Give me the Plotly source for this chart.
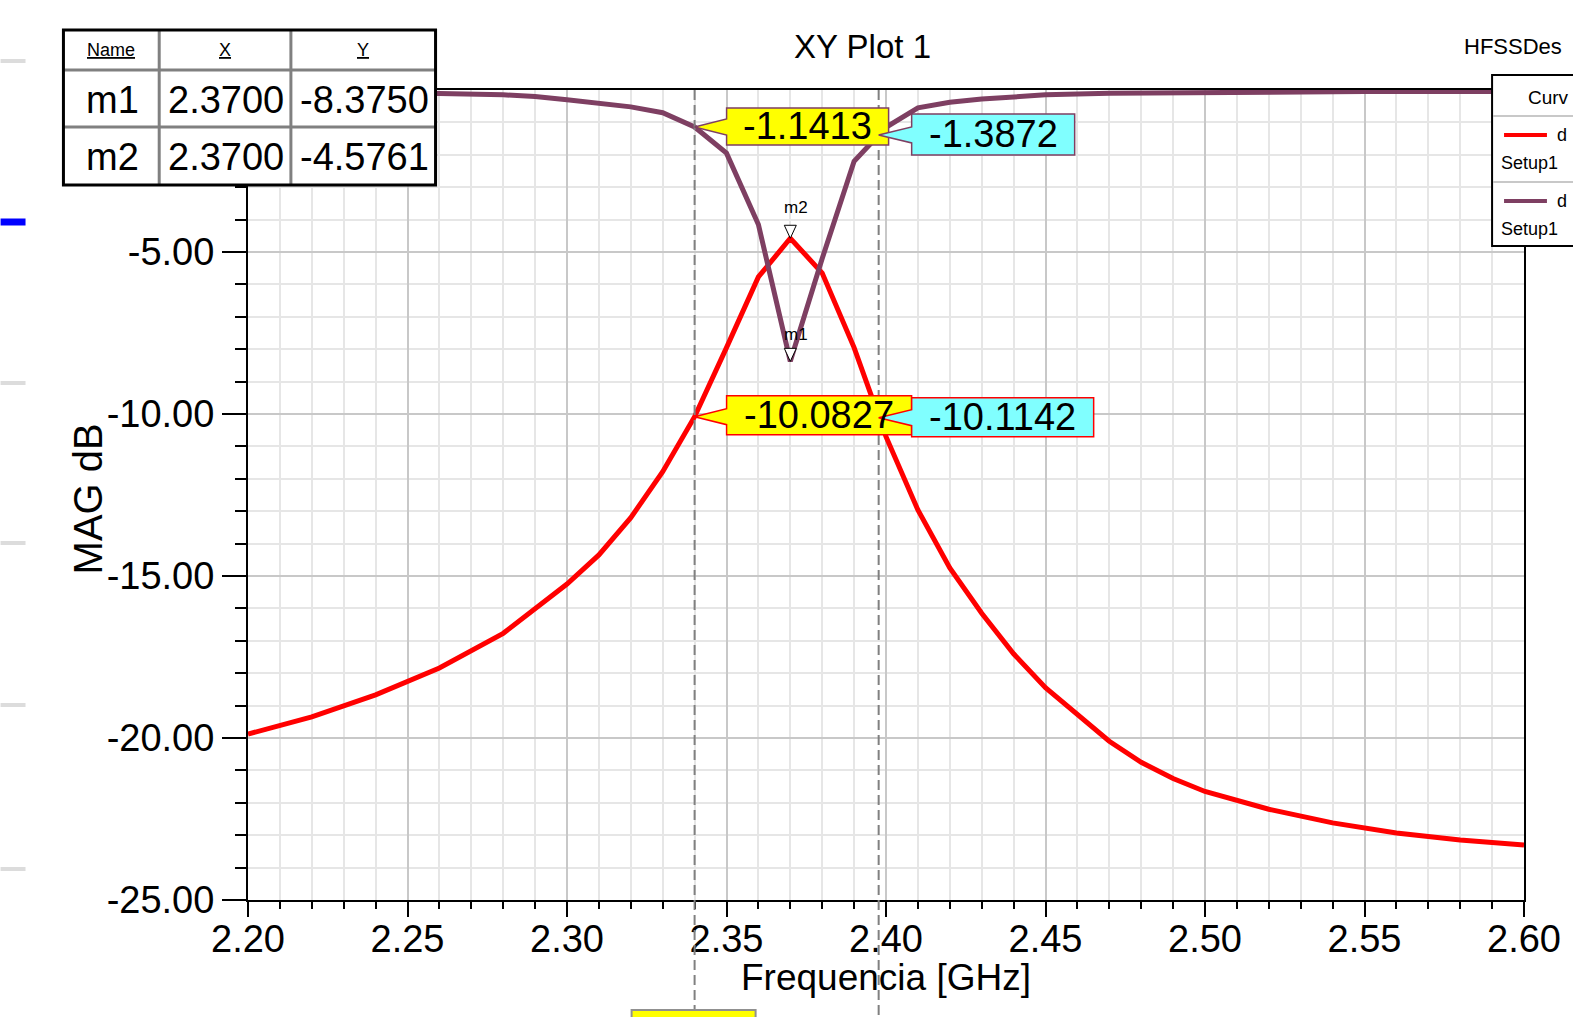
import plotly.graph_objects as go

# ---------------- data ----------------
freq_s21 = [2.20, 2.22, 2.24, 2.26, 2.28, 2.30, 2.31, 2.32, 2.33, 2.34, 2.35, 2.36, 2.37,
            2.38, 2.39, 2.40, 2.41, 2.42, 2.43, 2.44, 2.45, 2.46, 2.47, 2.48, 2.49, 2.50,
            2.52, 2.54, 2.56, 2.58, 2.60]
s21_db = [-19.88, -19.35, -18.67, -17.84, -16.77, -15.25, -14.35, -13.20, -11.78, -10.0827,
          -7.95, -5.77, -4.5761, -5.65, -7.95, -10.70, -12.96, -14.75, -16.15, -17.40,
          -18.45, -19.30, -20.10, -20.75, -21.25, -21.65, -22.20, -22.62, -22.93, -23.15, -23.30]

freq_s11 = [2.20, 2.22, 2.24, 2.26, 2.28, 2.29, 2.30, 2.31, 2.32, 2.33, 2.34, 2.35, 2.36,
            2.37, 2.38, 2.39, 2.40, 2.41, 2.42, 2.43, 2.44, 2.45, 2.47, 2.50, 2.55, 2.60]
s11_db = [-0.05, -0.06, -0.08, -0.11, -0.15, -0.20, -0.30, -0.40, -0.52, -0.70, -1.1413,
          -1.95, -4.15, -8.3750, -5.20, -2.20, -1.15, -0.55, -0.38, -0.28, -0.20, -0.15,
          -0.10, -0.07, -0.05, -0.05]

marker_names = ["m1", "m2"]
marker_x = [2.3700, 2.3700]
marker_y = [-8.3750, -4.5761]

xline_pos = [2.34, 2.3977]
xline_s11 = [-1.1413, -1.3872]
xline_s21 = [-10.0827, -10.1142]

x_ticks = [2.20, 2.25, 2.30, 2.35, 2.40, 2.45, 2.50, 2.55, 2.60]
y_ticks = [-25, -20, -15, -10, -5]

# legend / header texts as visible in the (window-cropped) reference
legend_names = ["d", "d"]
legend_setup = ["Setup1", "Setup1"]
legend_header = "Curv"
design_name = "HFSSDes"

# ---------------- styling ----------------
W, H = 1573, 1017
L, R, T, B = 248, 1527, 90, 900
FONT = "Liberation Sans Narrow, Arial Narrow, Liberation Sans, Arial, sans-serif"
RED = "#ff0000"
PURPLE = "#7e3f62"
YELLOW = "#ffff00"
CYAN = "#80ffff"


def pxp(x):
    return (x - L) / (R - L)


def pyp(y):
    return (B - y) / (B - T)


fig = go.Figure()
fig.add_trace(go.Scatter(x=freq_s21, y=s21_db, mode="lines", line=dict(color=RED, width=5),
                         name="dB(S(2,1))", hoverinfo="x+y"))
fig.add_trace(go.Scatter(x=freq_s11, y=s11_db, mode="lines", line=dict(color=PURPLE, width=5),
                         name="dB(S(1,1))", hoverinfo="x+y"))

shapes = []
annotations = []

# vertical dashed marker lines
for xv in xline_pos:
    shapes.append(dict(type="line", xref="x", yref="paper", x0=xv, x1=xv, y0=1, y1=-0.2,
                       line=dict(color="#808080", width=2, dash="10px,5px"), layer="above"))

# bottom (cut) x-marker label box under the first line
shapes.append(dict(type="path", xref="x", yref="paper", xsizemode="pixel", xanchor=xline_pos[0],
                   path="M-63,0 L61,0 L61,-40 L-63,-40 Z", ysizemode="pixel", yanchor=pyp(1010),
                   fillcolor=YELLOW, line=dict(color="#909090", width=2), layer="above"))


def pointer_box(xv, yv, x0, x1, ybot, ytop, fill, border, text):
    path = (f"M0,0 L{x0},8 L{x0},{ytop} L{x1},{ytop} L{x1},{ybot} "
            f"L{x0},{ybot} L{x0},-8 Z")
    shapes.append(dict(type="path", xref="x", yref="y", xsizemode="pixel", ysizemode="pixel",
                       xanchor=xv, yanchor=yv, path=path, fillcolor=fill,
                       line=dict(color=border, width=1.5), layer="above"))
    annotations.append(dict(x=xv, y=yv, xref="x", yref="y", text=text, showarrow=False,
                            xanchor="center", yanchor="middle", xshift=(x0 + x1) / 2,
                            yshift=(ytop + ybot) / 2,
                            font=dict(family=FONT, size=38, color="black")))


pointer_box(xline_pos[0], xline_s11[0], 32, 194, -18, 19, YELLOW, PURPLE, f"{xline_s11[0]:.4f}")
pointer_box(xline_pos[1], xline_s11[1], 33, 196, -20, 21, CYAN, PURPLE, f"{xline_s11[1]:.4f}")
pointer_box(xline_pos[0], xline_s21[0], 32, 217, -18, 21, YELLOW, RED, f"{xline_s21[0]:.4f}")
pointer_box(xline_pos[1], xline_s21[1], 33, 215, -19, 20, CYAN, RED, f"{xline_s21[1]:.4f}")

# m1 / m2 markers
for name, xv, yv in zip(marker_names, marker_x, marker_y):
    shapes.append(dict(type="path", xref="x", yref="y", xsizemode="pixel", ysizemode="pixel",
                       xanchor=xv, yanchor=yv, path="M0,0 L-6,13 L6,13 Z", fillcolor="white",
                       line=dict(color="black", width=1), layer="above"))
    annotations.append(dict(x=xv, y=yv, xref="x", yref="y", text=name, showarrow=False,
                            xanchor="center", yanchor="middle", xshift=6,
                            yshift=31 if name == "m2" else 27,
                            font=dict(family=FONT, size=17, color="black")))

# ---------------- marker table (top-left) ----------------
tx0, tx1, ty0, ty1 = 63, 436, 30, 185
cols = [63, 159, 291, 436]
rows = [30, 70, 127, 185]
shapes.append(dict(type="rect", xref="paper", yref="paper", x0=pxp(tx0), x1=pxp(tx1),
                   y0=pyp(ty1), y1=pyp(ty0), fillcolor="white", line=dict(width=0), layer="above"))
for cx in cols[1:-1]:
    shapes.append(dict(type="line", xref="paper", yref="paper", x0=pxp(cx), x1=pxp(cx),
                       y0=pyp(ty1), y1=pyp(ty0), line=dict(color="#808080", width=3), layer="above"))
for ry in rows[1:-1]:
    shapes.append(dict(type="line", xref="paper", yref="paper", x0=pxp(tx0), x1=pxp(tx1),
                       y0=pyp(ry), y1=pyp(ry), line=dict(color="#808080", width=3), layer="above"))
shapes.append(dict(type="rect", xref="paper", yref="paper", x0=pxp(tx0), x1=pxp(tx1),
                   y0=pyp(ty1), y1=pyp(ty0), line=dict(color="black", width=3), layer="above"))

headers = ["<u>Name</u>", "<u>X</u>", "<u>Y</u>"]
for i, htxt in enumerate(headers):
    annotations.append(dict(x=pxp((cols[i] + cols[i + 1]) / 2), y=pyp(50), xref="paper", yref="paper",
                            text=htxt, showarrow=False, xanchor="center", yanchor="middle",
                            font=dict(family=FONT, size=18, color="black")))
for r, (name, xv, yv) in enumerate(zip(marker_names, marker_x, marker_y)):
    cy = (rows[r + 1] + rows[r + 2]) / 2 + 1
    cells = [name, f"{xv:.4f}", f"{yv:.4f}"]
    for i, ctxt in enumerate(cells):
        annotations.append(dict(x=pxp((cols[i] + cols[i + 1]) / 2 + 1), y=pyp(cy), xref="paper",
                                yref="paper", text=ctxt, showarrow=False, xanchor="center",
                                yanchor="middle", font=dict(family=FONT, size=38, color="black")))

# ---------------- legend box (right, cut by the window) ----------------
lx0, lx1, ly0, ly1 = 1495, 1600, 75, 246
shapes.append(dict(type="rect", xref="paper", yref="paper", x0=pxp(lx0), x1=pxp(lx1),
                   y0=pyp(ly1), y1=pyp(ly0), fillcolor="white", line=dict(color="black", width=2),
                   layer="above"))
for sy in [116, 182]:
    shapes.append(dict(type="line", xref="paper", yref="paper", x0=pxp(lx0 + 1), x1=pxp(lx1),
                       y0=pyp(sy), y1=pyp(sy), line=dict(color="#c8c8c8", width=2), layer="above"))
annotations.append(dict(x=pxp(1529), y=pyp(97), xref="paper", yref="paper", text=legend_header,
                        showarrow=False, xanchor="left", yanchor="middle",
                        font=dict(family=FONT, size=19, color="black")))
for k, (col, nm, st) in enumerate(zip([RED, PURPLE], legend_names, legend_setup)):
    ly = 135 + 66 * k
    shapes.append(dict(type="line", xref="paper", yref="paper", x0=pxp(1507), x1=pxp(1550),
                       y0=pyp(ly), y1=pyp(ly), line=dict(color=col, width=4), layer="above"))
    annotations.append(dict(x=pxp(1558), y=pyp(ly), xref="paper", yref="paper", text=nm,
                            showarrow=False, xanchor="left", yanchor="middle",
                            font=dict(family=FONT, size=18, color="black")))
    annotations.append(dict(x=pxp(1502), y=pyp(ly + 28), xref="paper", yref="paper", text=st,
                            showarrow=False, xanchor="left", yanchor="middle",
                            font=dict(family=FONT, size=18, color="black")))

# ---------------- left window-edge fragments ----------------
for gy, gc, gw in [(61, "#dcdcdc", 4), (222, "#0000ff", 7), (383, "#dcdcdc", 4),
                   (543, "#dcdcdc", 4), (705, "#dcdcdc", 4), (869, "#dcdcdc", 4)]:
    shapes.append(dict(type="line", xref="paper", yref="paper", x0=pxp(0), x1=pxp(25),
                       y0=pyp(gy), y1=pyp(gy), line=dict(color=gc, width=gw), layer="above"))

# ---------------- titles ----------------
annotations.append(dict(x=pxp(864), y=pyp(47), xref="paper", yref="paper", text="XY Plot 1",
                        showarrow=False, xanchor="center", yanchor="middle",
                        font=dict(family=FONT, size=33, color="black")))
annotations.append(dict(x=pxp(1465), y=pyp(47), xref="paper", yref="paper", text=design_name,
                        showarrow=False, xanchor="left", yanchor="middle",
                        font=dict(family=FONT, size=22, color="black")))
annotations.append(dict(x=0.5, y=pyp(977), xref="paper", yref="paper", text="Frequencia [GHz]",
                        showarrow=False, xanchor="center", yanchor="middle",
                        font=dict(family=FONT, size=37, color="black")))
annotations.append(dict(x=pxp(88), y=pyp(499), xref="paper", yref="paper", text="MAG dB",
                        showarrow=False, xanchor="center", yanchor="middle", textangle=-90,
                        font=dict(family=FONT, size=40, color="black")))

fig.update_layout(
    width=W, height=H,
    margin=dict(l=L, r=W - R, t=T, b=H - B, pad=0),
    paper_bgcolor="white", plot_bgcolor="white",
    showlegend=False,
    shapes=shapes, annotations=annotations,
    xaxis=dict(range=[2.20, 2.60], tickvals=x_ticks, ticktext=[f"{v:.2f}" for v in x_ticks],
               showgrid=True, gridcolor="#c8c8c8", gridwidth=2,
               showline=True, linecolor="black", linewidth=2, mirror=True,
               ticks="outside", ticklen=15, tickwidth=2, tickcolor="black",
               tickfont=dict(family=FONT, size=38, color="black"),
               zeroline=False, ticklabelstandoff=-11,
               minor=dict(dtick=0.01, tick0=2.20, showgrid=True, gridcolor="#e6e6e6", gridwidth=2,
                          ticks="outside", ticklen=7, tickwidth=2, tickcolor="black")),
    yaxis=dict(range=[-25, 0], tickvals=y_ticks, ticktext=[f"{v:.2f}" for v in y_ticks],
               showgrid=True, gridcolor="#c8c8c8", gridwidth=2,
               showline=True, linecolor="black", linewidth=2, mirror=True,
               ticks="outside", ticklen=24, tickwidth=2, tickcolor="black",
               tickfont=dict(family=FONT, size=38, color="black"),
               zeroline=False,
               minor=dict(dtick=1, tick0=0, showgrid=True, gridcolor="#e6e6e6", gridwidth=2,
                          ticks="outside", ticklen=11, tickwidth=2, tickcolor="black")),
)

fig.write_html("out.html", config={"displayModeBar": False},
               post_script="document.body.style.margin='0';document.body.style.overflow='hidden';")
